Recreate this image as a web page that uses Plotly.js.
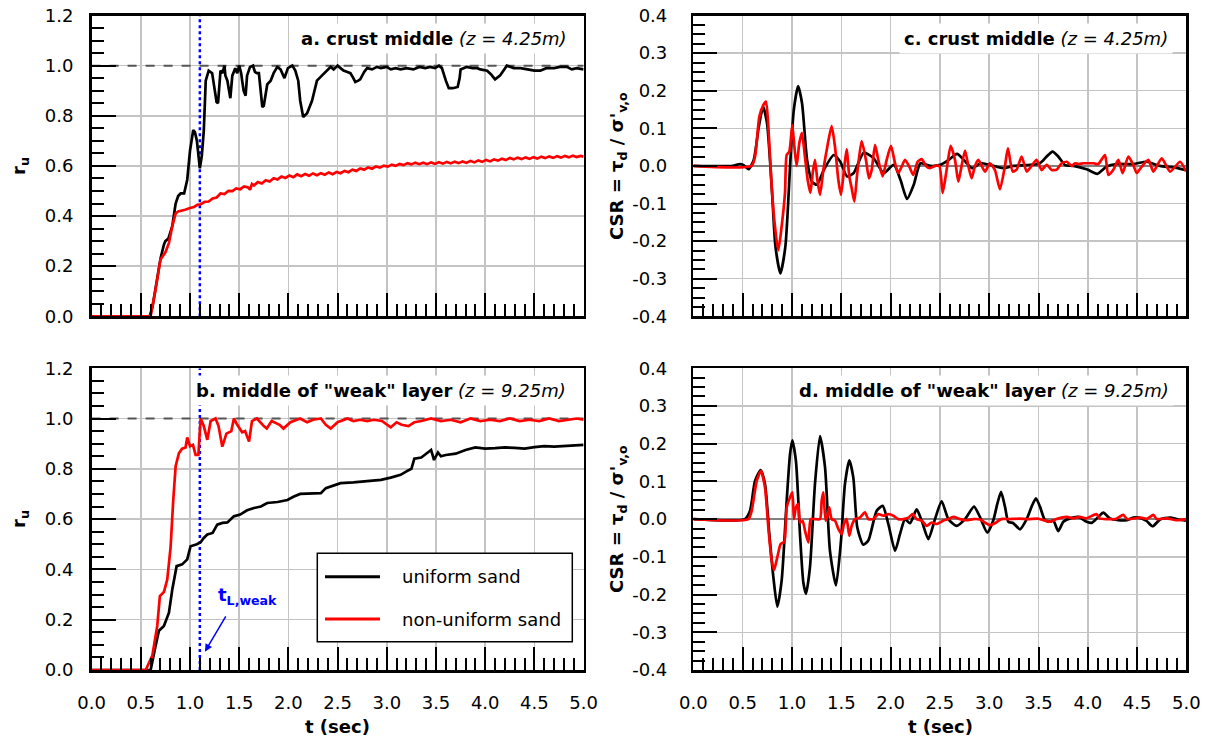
<!DOCTYPE html>
<html><head><meta charset="utf-8">
<script src="https://cdn.plot.ly/plotly-3.0.1.min.js"></script>
<style>html,body{margin:0;padding:0;background:#fff}#chart{width:1210px;height:740px}</style>
</head><body><div id="chart"></div>
<script>
// ---------- DATA ----------
const seriesNames = ['uniform sand', 'non-uniform sand'];
const tLweak = 1.1;
const xTickVals = [0, 0.5, 1, 1.5, 2, 2.5, 3, 3.5, 4, 4.5, 5];
const xTickLabels = ['0.0','0.5','1.0','1.5','2.0','2.5','3.0','3.5','4.0','4.5','5.0'];
const ruTickVals = [0, 0.2, 0.4, 0.6, 0.8, 1.0, 1.2];
const ruTickLabels = ['0.0','0.2','0.4','0.6','0.8','1.0','1.2'];
const csrTickVals = [-0.4, -0.3, -0.2, -0.1, 0, 0.1, 0.2, 0.3, 0.4];
const csrTickLabels = ['-0.4','-0.3','-0.2','-0.1','0.0','0.1','0.2','0.3','0.4'];

// a. crust middle, r_u
const aT_uni = [0,0.59,0.62,0.667,0.70,0.735,0.75,0.78,0.82,0.854,0.88,0.905,0.94,0.972,1.00,1.033,1.05,1.07,1.09,1.10,1.12,1.14,1.16,1.19,1.225,1.25,1.27,1.285,1.31,1.33,1.35,1.36,1.38,1.41,1.43,1.46,1.48,1.50,1.52,1.53,1.545,1.565,1.58,1.61,1.64,1.66,1.68,1.70,1.72,1.735,1.75,1.785,1.82,1.85,1.887,1.92,1.96,1.995,2.04,2.07,2.10,2.12,2.15,2.19,2.24,2.29,2.34,2.38,2.43,2.46,2.50,2.53,2.56,2.60,2.63,2.66,2.68,2.71,2.73,2.77,2.80,2.85,2.90,2.94,3.00,3.04,3.09,3.14,3.20,3.27,3.33,3.39,3.44,3.49,3.53,3.56,3.58,3.60,3.63,3.67,3.72,3.74,3.75,3.81,3.87,3.92,3.95,4.02,4.06,4.10,4.15,4.19,4.22,4.29,4.36,4.43,4.50,4.56,4.62,4.70,4.76,4.83,4.88,4.93,5.00];
const aRu_uni = [0,0,0.04,0.16,0.23,0.286,0.30,0.31,0.36,0.45,0.48,0.49,0.49,0.545,0.66,0.743,0.735,0.70,0.62,0.59,0.64,0.74,0.94,0.98,0.97,0.90,0.855,0.85,0.98,0.97,1.0,0.96,0.94,0.87,0.96,0.99,0.97,1.0,0.97,0.94,0.90,0.88,0.96,0.995,1.0,0.975,0.97,0.97,0.90,0.835,0.84,0.925,0.94,0.97,0.995,0.985,0.95,0.99,1.0,0.98,0.94,0.86,0.795,0.81,0.86,0.94,0.96,0.975,0.995,0.985,1.0,0.99,0.98,0.975,0.97,0.95,0.935,0.94,0.945,0.975,0.99,0.985,0.995,0.99,0.995,0.985,0.99,0.985,0.99,0.985,0.995,0.99,0.995,0.99,1.0,0.99,0.96,0.94,0.91,0.91,0.915,0.95,0.985,0.995,0.99,0.99,0.985,0.98,0.965,0.945,0.96,0.985,1.0,0.99,0.99,0.985,0.98,0.98,0.99,0.99,0.995,0.995,0.985,0.99,0.985];
const aT_non = [0,0.60,0.65,0.70,0.75,0.786,0.82,0.854,0.88,0.905,0.95,1.00,1.04,1.08,1.11,1.15,1.19,1.23,1.27,1.31,1.35,1.39,1.43,1.47,1.51,1.55,1.59,1.61,1.63,1.65,1.69,1.73,1.77,1.81,1.85,1.89,1.93,1.97,2.01,2.05,2.09,2.13,2.17,2.21,2.25,2.29,2.33,2.37,2.41,2.45,2.49,2.53,2.57,2.61,2.65,2.69,2.73,2.77,2.81,2.85,2.89,2.93,2.97,3.01,3.05,3.09,3.13,3.17,3.21,3.25,3.29,3.33,3.37,3.41,3.45,3.49,3.53,3.57,3.61,3.65,3.69,3.73,3.77,3.81,3.85,3.89,3.93,3.97,4.01,4.05,4.09,4.13,4.17,4.21,4.25,4.29,4.33,4.37,4.41,4.45,4.49,4.53,4.57,4.61,4.65,4.69,4.73,4.77,4.81,4.85,4.89,4.93,4.97,5.00];
const aRu_non = [0,0,0.107,0.227,0.255,0.293,0.36,0.41,0.418,0.42,0.425,0.432,0.436,0.446,0.447,0.457,0.458,0.47,0.474,0.49,0.488,0.5,0.499,0.51,0.507,0.518,0.514,0.505,0.528,0.522,0.536,0.53,0.543,0.538,0.551,0.546,0.558,0.552,0.562,0.555,0.566,0.559,0.568,0.561,0.57,0.563,0.571,0.565,0.574,0.567,0.576,0.571,0.58,0.575,0.585,0.58,0.59,0.585,0.594,0.589,0.598,0.593,0.601,0.597,0.605,0.6,0.608,0.603,0.611,0.606,0.613,0.607,0.613,0.607,0.614,0.608,0.615,0.609,0.616,0.61,0.617,0.611,0.618,0.612,0.62,0.614,0.622,0.616,0.624,0.618,0.626,0.621,0.629,0.623,0.632,0.626,0.633,0.627,0.634,0.628,0.635,0.629,0.637,0.631,0.638,0.632,0.639,0.633,0.64,0.634,0.641,0.635,0.64,0.637];

// b. middle of "weak" layer, r_u
const bT_uni = [0,0.60,0.65,0.684,0.735,0.786,0.82,0.864,0.92,0.972,1.006,1.07,1.108,1.14,1.176,1.23,1.277,1.33,1.38,1.446,1.51,1.58,1.65,1.72,1.785,1.89,1.99,2.056,2.12,2.22,2.33,2.38,2.43,2.53,2.66,2.80,2.94,3.04,3.14,3.20,3.25,3.28,3.35,3.40,3.45,3.48,3.52,3.55,3.60,3.70,3.80,3.90,4.00,4.10,4.20,4.30,4.40,4.50,4.60,4.70,4.80,4.90,5.00];
const bRu_uni = [0,0,0.096,0.156,0.175,0.228,0.32,0.413,0.42,0.44,0.492,0.50,0.508,0.525,0.539,0.545,0.578,0.585,0.587,0.611,0.618,0.635,0.644,0.65,0.664,0.668,0.676,0.69,0.70,0.70,0.703,0.723,0.73,0.743,0.746,0.75,0.756,0.765,0.776,0.79,0.80,0.84,0.845,0.86,0.875,0.835,0.865,0.85,0.855,0.86,0.875,0.885,0.88,0.882,0.885,0.883,0.88,0.886,0.89,0.888,0.89,0.892,0.895];
const bT_non = [0,0.55,0.617,0.667,0.694,0.735,0.769,0.803,0.83,0.854,0.887,0.92,0.955,0.972,1.00,1.03,1.057,1.085,1.108,1.14,1.176,1.21,1.26,1.29,1.328,1.37,1.42,1.446,1.48,1.53,1.56,1.60,1.63,1.68,1.75,1.78,1.83,1.91,1.95,2.02,2.12,2.19,2.25,2.33,2.38,2.43,2.50,2.60,2.66,2.73,2.80,2.87,2.95,3.04,3.10,3.15,3.22,3.28,3.35,3.45,3.55,3.65,3.75,3.85,3.95,4.05,4.15,4.25,4.35,4.45,4.55,4.65,4.75,4.85,4.93,5.00];
const bRu_non = [0,0,0.057,0.175,0.294,0.31,0.36,0.49,0.677,0.81,0.862,0.88,0.885,0.925,0.89,0.895,0.855,0.855,1.0,0.97,0.915,0.99,1.0,0.97,0.888,0.94,0.95,1.0,0.975,0.945,0.95,0.908,0.99,1.0,0.97,0.96,0.99,0.975,0.96,0.985,1.0,0.985,0.995,1.0,0.975,0.96,0.985,1.0,0.99,0.995,0.99,0.995,0.99,0.965,0.985,0.975,0.97,0.985,0.99,1.0,0.99,0.995,0.985,1.0,0.99,0.995,0.99,1.0,0.99,0.995,0.99,1.0,0.99,0.995,1.0,0.995];

// c. crust middle, CSR
const cT_uni = [0,0.40,0.47,0.51,0.56,0.612,0.663,0.707,0.747,0.798,0.832,0.882,0.933,0.984,1.018,1.062,1.102,1.153,1.203,1.254,1.322,1.423,1.49,1.558,1.626,1.727,1.829,1.93,2.032,2.10,2.167,2.235,2.303,2.404,2.505,2.59,2.674,2.742,2.826,2.911,3.007,3.143,3.245,3.38,3.515,3.583,3.643,3.70,3.77,3.854,3.989,4.097,4.19,4.293,4.461,4.597,4.732,4.868,4.996];
const cCsr_uni = [0,0,0.005,0.002,-0.009,0.016,0.104,0.157,0.113,-0.072,-0.214,-0.286,-0.214,0.016,0.148,0.212,0.166,0.016,-0.042,-0.05,-0.011,0.029,0.011,-0.028,-0.019,0.035,0.02,-0.019,0.003,-0.037,-0.088,-0.05,0.007,0,0.003,0.016,0.032,0.016,-0.006,0.007,0.003,-0.006,0,0.002,0.007,0.025,0.038,0.025,0.002,0,-0.009,-0.021,-0.002,0.005,0.005,0.011,0,-0.004,-0.011];
const cT_non = [0,0.59,0.625,0.669,0.71,0.736,0.76,0.794,0.827,0.861,0.895,0.929,0.946,0.973,1.003,1.024,1.047,1.074,1.10,1.131,1.159,1.186,1.21,1.233,1.257,1.284,1.318,1.358,1.402,1.436,1.47,1.497,1.527,1.554,1.581,1.605,1.632,1.662,1.706,1.75,1.781,1.808,1.842,1.875,1.919,1.96,2.004,2.045,2.078,2.112,2.146,2.19,2.23,2.274,2.315,2.359,2.40,2.45,2.494,2.528,2.568,2.609,2.653,2.687,2.72,2.755,2.788,2.822,2.856,2.89,2.957,3.007,3.058,3.109,3.16,3.19,3.238,3.278,3.329,3.38,3.43,3.48,3.532,3.583,3.634,3.685,3.735,3.786,3.837,3.871,3.905,3.955,4.006,4.057,4.107,4.174,4.208,4.259,4.31,4.353,4.411,4.461,4.496,4.546,4.614,4.665,4.75,4.834,4.936,4.996];
const cCsr_non = [0,0,0.025,0.131,0.162,0.171,0.104,-0.055,-0.161,-0.225,-0.161,-0.072,0.029,0.038,0.109,0.051,0,0.06,0.088,0.025,-0.037,-0.072,-0.019,0.016,-0.037,-0.077,-0.011,0.051,0.106,0.051,-0.037,-0.077,-0.011,0.044,-0.028,-0.059,-0.095,-0.019,0.066,0.016,-0.033,-0.011,0.056,0.016,-0.028,0.016,0.053,0.007,-0.019,-0.002,0.016,-0.002,-0.024,0.011,0.018,0,-0.006,0,0,-0.072,-0.011,0.053,0.016,-0.042,0,0.041,0,-0.033,0,0.016,-0.015,0.007,-0.011,-0.062,0,0.047,-0.015,-0.01,0.025,-0.015,0,0.016,-0.011,0.003,-0.011,-0.01,0.007,0.011,0,0.007,0.005,0.007,0.007,0.007,0.005,0.029,-0.024,-0.01,0.016,-0.019,0.025,0.003,-0.019,-0.002,0.016,-0.015,0.02,-0.015,0.011,-0.015];

// d. middle of "weak" layer, CSR
const dT_uni = [0,0.523,0.574,0.625,0.682,0.726,0.77,0.811,0.851,0.895,0.946,0.98,1.003,1.04,1.081,1.115,1.142,1.182,1.233,1.284,1.335,1.385,1.446,1.497,1.537,1.581,1.622,1.662,1.723,1.774,1.859,1.92,1.977,2.045,2.095,2.146,2.197,2.264,2.315,2.383,2.45,2.518,2.586,2.67,2.755,2.846,2.907,2.981,3.042,3.083,3.12,3.16,3.194,3.245,3.312,3.38,3.43,3.474,3.515,3.566,3.623,3.65,3.70,3.752,3.82,3.904,3.989,4.04,4.107,4.157,4.225,4.31,4.394,4.461,4.546,4.597,4.658,4.732,4.834,4.92,4.996];
const dCsr_uni = [0,0,0.022,0.101,0.13,0.093,-0.04,-0.154,-0.232,-0.163,0.048,0.172,0.209,0.154,-0.04,-0.168,-0.198,-0.128,0.093,0.22,0.137,-0.084,-0.176,-0.057,0.093,0.156,0.11,-0.022,-0.068,-0.057,0.022,0.035,-0.013,-0.084,-0.04,0,-0.011,0.026,-0.004,-0.053,0,0.047,0,-0.018,0,0.033,0.005,-0.036,-0.003,0.041,0.072,0.033,-0.007,-0.011,-0.027,0,0.033,0.055,0.033,-0.003,-0.007,-0.003,-0.032,-0.007,0.002,0.006,-0.007,-0.01,0.006,0.017,0.002,-0.003,-0.003,0.004,0.002,-0.005,-0.019,-0.001,0.004,-0.001,-0.004];
const dT_non = [0,0.557,0.591,0.642,0.686,0.726,0.76,0.794,0.818,0.851,0.885,0.922,0.946,0.973,1.003,1.02,1.04,1.064,1.081,1.108,1.132,1.166,1.19,1.233,1.284,1.301,1.318,1.341,1.362,1.378,1.402,1.436,1.47,1.504,1.527,1.554,1.581,1.605,1.639,1.689,1.74,1.774,1.825,1.875,1.926,1.977,2.028,2.078,2.129,2.18,2.224,2.264,2.315,2.366,2.417,2.467,2.535,2.586,2.636,2.704,2.772,2.839,2.907,2.95,3.007,3.058,3.12,3.2,3.3,3.4,3.5,3.617,3.68,3.786,3.85,3.92,3.98,4.09,4.12,4.2,4.28,4.36,4.40,4.53,4.60,4.665,4.70,4.80,4.90,5.0];
const dCsr_non = [0,0,0.022,0.101,0.128,0.084,-0.022,-0.11,-0.135,-0.101,-0.066,-0.06,0.031,0.053,0.071,0,0.031,0.04,-0.009,-0.005,-0.031,-0.062,0,0,0,0.049,0.071,-0.004,0.009,0.031,0,-0.004,-0.026,-0.04,-0.013,0,-0.044,-0.018,0,0.004,0.018,0,0,0.013,0.009,0.013,0.009,0,0,0.004,0.013,0,-0.004,-0.018,-0.009,-0.013,-0.004,0,0.006,0,-0.003,0,-0.001,-0.008,-0.016,-0.011,0,0,0.001,0,0.001,-0.007,0,0.006,0.002,0.006,0.002,0.013,0.002,0,0,0.011,0,0.004,0.001,0.011,0,0.002,-0.003,0];

const panelTitles = [
  '<b>a. crust middle</b> <i>(z = 4.25m)</i>',
  '<b>b. middle of "weak" layer</b> <i>(z = 9.25m)</i>',
  '<b>c. crust middle</b> <i>(z = 4.25m)</i>',
  '<b>d. middle of "weak" layer</b> <i>(z = 9.25m)</i>'
];

// ---------- STYLE / LAYOUT ----------
const FONT = 'DejaVu Sans';
const W = 1210, H = 740;
const px = v => v / W, py = v => 1 - v / H;
const xDomL = [px(91.6), px(583.6)], xDomR = [px(693.4), px(1186.4)];
const yDomT = [py(316.3), py(15.5)], yDomB = [py(670), py(368.2)];

function tr(x, y, ax, ay, color, name, shape) {
  return {x: x, y: y, xaxis: ax, yaxis: ay, type: 'scatter', mode: 'lines', name: name,
          line: {color: color, width: 2.7, shape: shape || 'linear', smoothing: 0.6},
          showlegend: false, hoverinfo: 'skip'};
}
const data = [
  tr(aT_uni, aRu_uni, 'x', 'y', '#000000', seriesNames[0]),
  tr(aT_non, aRu_non, 'x', 'y', '#ff0000', seriesNames[1]),
  tr(bT_uni, bRu_uni, 'x2', 'y2', '#000000', seriesNames[0]),
  tr(bT_non, bRu_non, 'x2', 'y2', '#ff0000', seriesNames[1]),
  tr(cT_uni, cCsr_uni, 'x3', 'y3', '#000000', seriesNames[0], 'spline'),
  tr(cT_non, cCsr_non, 'x3', 'y3', '#ff0000', seriesNames[1], 'spline'),
  tr(dT_uni, dCsr_uni, 'x4', 'y4', '#000000', seriesNames[0], 'spline'),
  tr(dT_non, dCsr_non, 'x4', 'y4', '#ff0000', seriesNames[1], 'spline')
];

const tickFont = {family: FONT, size: 18, color: '#000'};
function xAxis(dom, anchor, labels) {
  return {domain: dom, anchor: anchor, range: [0, 5], tickmode: 'array', tickvals: xTickVals,
    ticktext: xTickLabels, showticklabels: labels, ticks: 'inside', ticklen: 23, tickwidth: 2,
    tickcolor: '#000', showline: true, linewidth: 2.5, linecolor: '#000', mirror: true,
    showgrid: true, gridcolor: '#c4c4c4', gridwidth: 1.5, zeroline: false, tickfont: tickFont,
    ticklabelstandoff: 15, fixedrange: true,
    minor: {dtick: 0.1, ticks: 'inside', ticklen: 12, tickwidth: 2, tickcolor: '#000', showgrid: false}};
}
function yAxis(dom, anchor, isRu) {
  return {domain: dom, anchor: anchor, range: isRu ? [0, 1.2] : [-0.4, 0.4], tickmode: 'array',
    tickvals: isRu ? ruTickVals : csrTickVals, ticktext: isRu ? ruTickLabels : csrTickLabels,
    ticks: 'inside', ticklen: 24, tickwidth: 2, tickcolor: '#000', showline: true, linewidth: 2.5,
    linecolor: '#000', mirror: true, showgrid: true, gridcolor: '#c4c4c4', gridwidth: 1.5,
    zeroline: !isRu, zerolinecolor: '#808080', zerolinewidth: 2, tickfont: tickFont,
    ticklabelstandoff: isRu ? 12 : 20, fixedrange: true,
    minor: {dtick: isRu ? 0.05 : 0.025, ticks: 'inside', ticklen: 12, tickwidth: 2, tickcolor: '#000', showgrid: false}};
}

const titleFont = {family: FONT, size: 18, color: '#000'};
function panelTitle(i, xr, yr, xd, yd) {
  return {xref: xr + ' domain', yref: yr + ' domain', x: xd, y: yd, xanchor: 'right', yanchor: 'middle',
    text: panelTitles[i], showarrow: false, font: titleFont, bgcolor: '#ffffff', borderpad: 4};
}
function paperText(x, y, text, extra) {
  return Object.assign({xref: 'paper', yref: 'paper', x: px(x), y: py(y), text: text, showarrow: false,
    xanchor: 'center', yanchor: 'middle', font: titleFont}, extra || {});
}
const ruTitle = '<b>r<sub>u</sub></b>';
const csrTitle = "<b>CSR = τ<sub>d</sub> / σ'<sub>v,o</sub></b>";
const annotations = [
  panelTitle(0, 'x', 'y', 0.976, 0.925),
  panelTitle(1, 'x2', 'y2', 0.974, 0.925),
  panelTitle(2, 'x3', 'y3', 0.973, 0.925),
  panelTitle(3, 'x4', 'y4', 0.975, 0.925),
  paperText(20, 166, ruTitle, {textangle: -90}),
  paperText(20, 519, ruTitle, {textangle: -90}),
  paperText(618, 166, csrTitle, {textangle: -90}),
  paperText(618, 519, csrTitle, {textangle: -90}),
  paperText(337.6, 726, '<b>t (sec)</b>'),
  paperText(940, 726, '<b>t (sec)</b>'),
  paperText(247, 596, '<b>t<sub>L,weak</sub></b>', {font: {family: FONT, size: 18, color: '#0000ff'}}),
  {xref: 'x2', yref: 'y2', x: 1.152, y: 0.073, text: '', showarrow: true, ax: 21.7, ay: -36.7,
   arrowcolor: '#0000ff', arrowhead: 2, arrowsize: 1, arrowwidth: 1.5, standoff: 0, startstandoff: 0},
  paperText(400, 576.7, seriesNames[0], {xanchor: 'left'}),
  paperText(400, 619, seriesNames[1], {xanchor: 'left'})
];

const shapes = [
  {type: 'line', xref: 'x', yref: 'y', x0: 0, x1: 5, y0: 1, y1: 1, layer: 'between', line: {color: '#555', width: 2, dash: 'dash'}},
  {type: 'line', xref: 'x2', yref: 'y2', x0: 0, x1: 5, y0: 1, y1: 1, layer: 'between', line: {color: '#555', width: 2, dash: 'dash'}},
  {type: 'line', xref: 'x', yref: 'y', x0: tLweak, x1: tLweak, y0: 0, y1: 1.2, layer: 'between', line: {color: '#0000ff', width: 2.5, dash: 'dot'}},
  {type: 'line', xref: 'x2', yref: 'y2', x0: tLweak, x1: tLweak, y0: 0, y1: 1.2, layer: 'between', line: {color: '#0000ff', width: 2.5, dash: 'dot'}},
  // manual legend box and samples
  {type: 'rect', xref: 'paper', yref: 'paper', x0: px(317.3), x1: px(572.3), y0: py(641.7), y1: py(553.3), layer: 'above', fillcolor: '#ffffff', line: {color: '#000', width: 1.5}},
  {type: 'line', xref: 'paper', yref: 'paper', x0: px(325), x1: px(380), y0: py(576.7), y1: py(576.7), layer: 'above', line: {color: '#000000', width: 3}},
  {type: 'line', xref: 'paper', yref: 'paper', x0: px(325), x1: px(380), y0: py(619), y1: py(619), layer: 'above', line: {color: '#ff0000', width: 3}}
];

const layout = {
  width: W, height: H, margin: {l: 0, r: 0, t: 0, b: 0}, paper_bgcolor: '#fff', plot_bgcolor: '#fff',
  showlegend: false, font: {family: FONT, size: 18, color: '#000'},
  xaxis: xAxis(xDomL, 'y', false), yaxis: yAxis(yDomT, 'x', true),
  xaxis2: xAxis(xDomL, 'y2', true), yaxis2: yAxis(yDomB, 'x2', true),
  xaxis3: xAxis(xDomR, 'y3', false), yaxis3: yAxis(yDomT, 'x3', false),
  xaxis4: xAxis(xDomR, 'y4', true), yaxis4: yAxis(yDomB, 'x4', false),
  annotations: annotations, shapes: shapes
};
Plotly.newPlot('chart', data, layout, {displayModeBar: false, staticPlot: true});
</script></body></html>
